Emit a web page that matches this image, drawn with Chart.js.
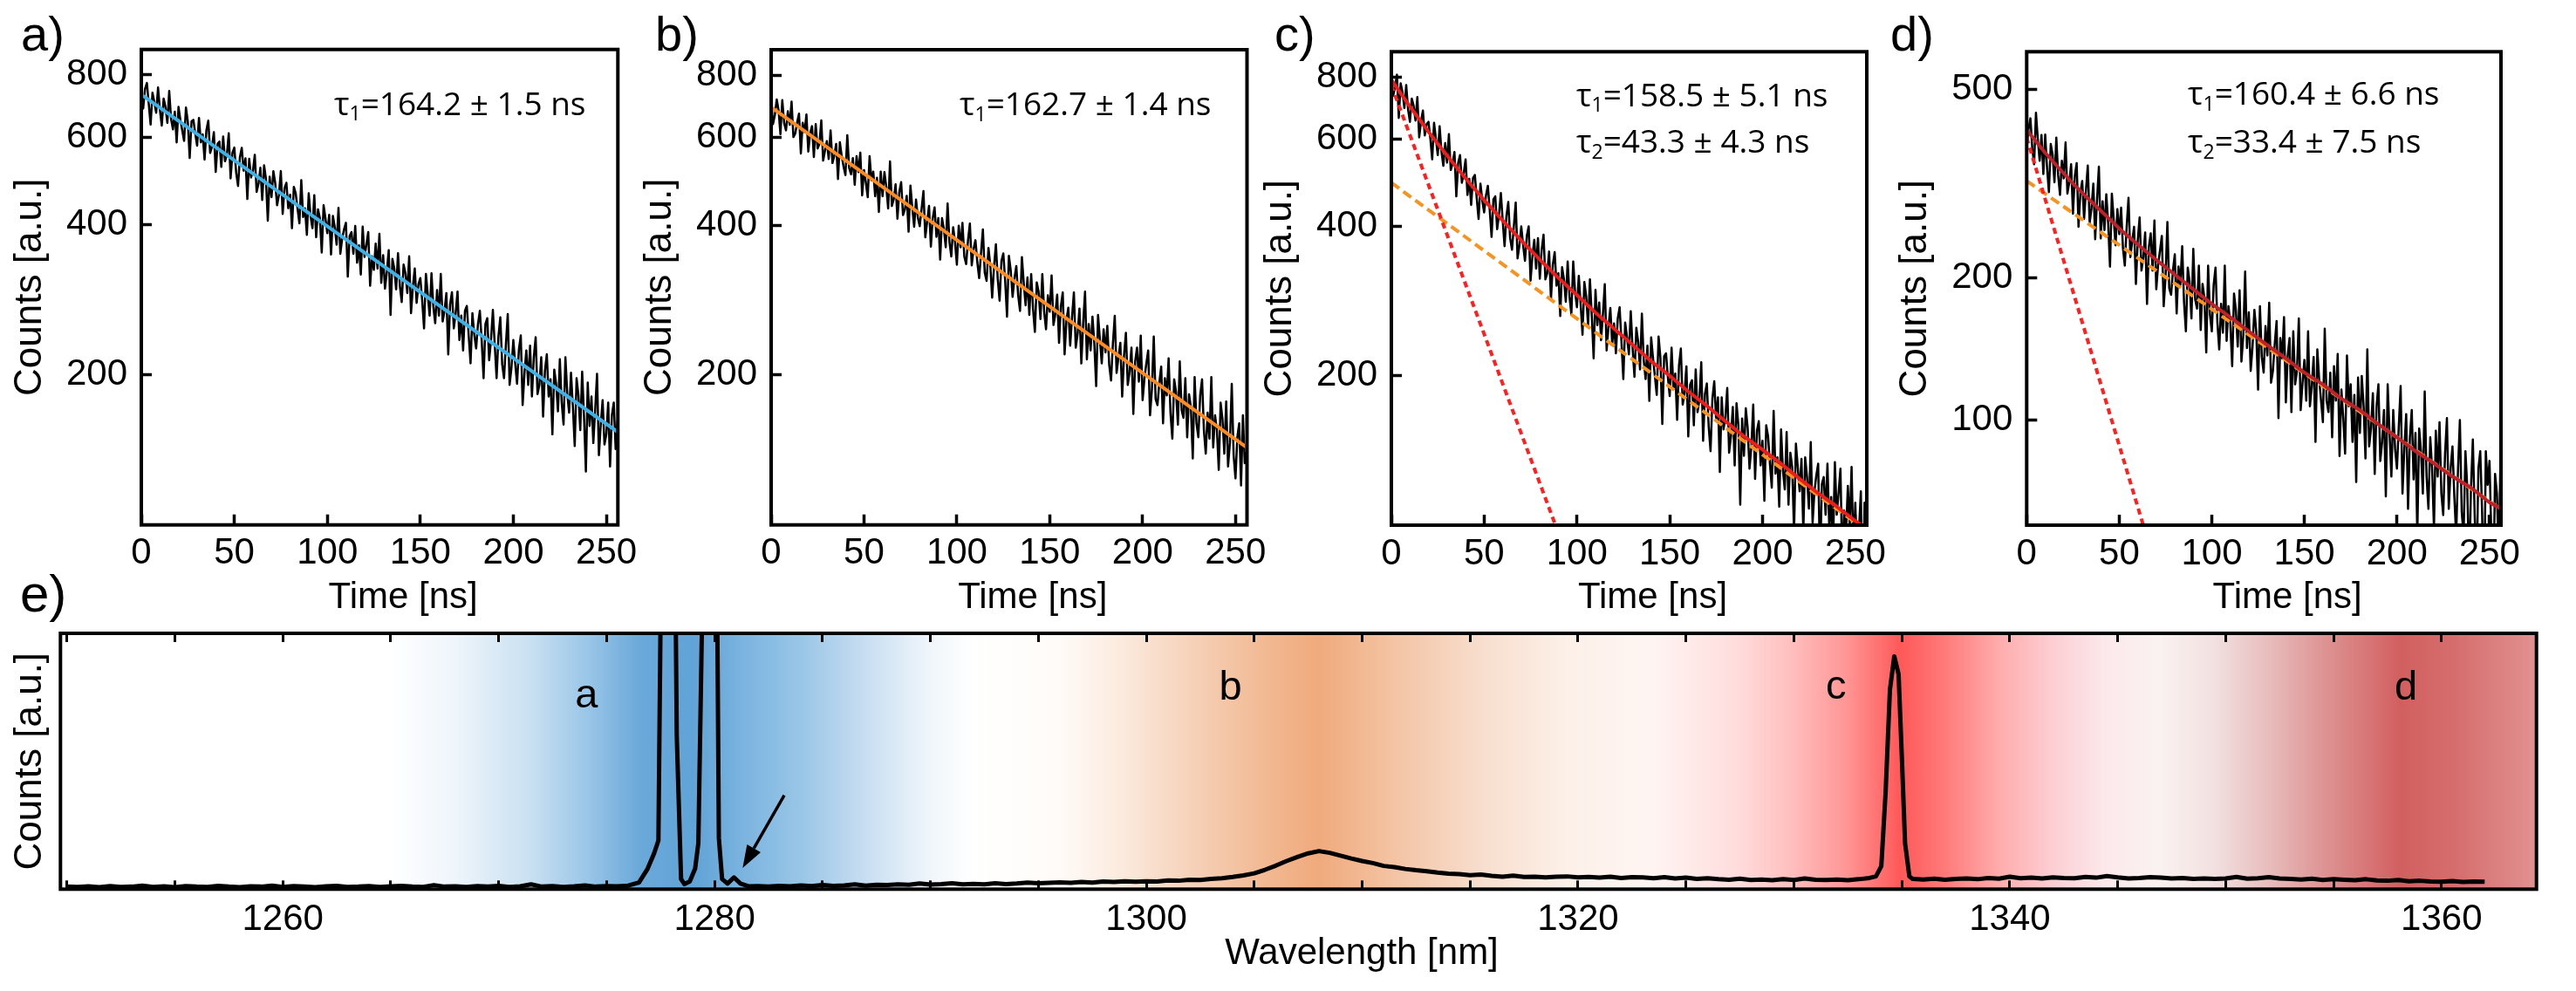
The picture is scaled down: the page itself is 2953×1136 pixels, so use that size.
<!DOCTYPE html>
<html><head><meta charset="utf-8">
<script src="https://cdn.jsdelivr.net/npm/chart.js"></script>
<style>
html,body{margin:0;padding:0;background:#fff;}
#wrap{position:relative;width:2953px;height:1136px;overflow:hidden;background:#fff;}
canvas{position:absolute;left:0;top:0;}
</style></head><body><div id="wrap">
<canvas id="cA" width="2953" height="1136"></canvas>
<canvas id="cB" width="2953" height="1136"></canvas>
<canvas id="cC" width="2953" height="1136"></canvas>
<canvas id="cD" width="2953" height="1136"></canvas>
<canvas id="cE" width="2953" height="1136"></canvas>
</div>
<script>
// ---------------- DATA ----------------
const timeTicks = [0, 50, 100, 150, 200, 250];
const yTicksABC = [200, 400, 600, 800];
const yTicksD = [100, 200, 500];

// photon counts per 1 ns bin, t = 0 ... 256 ns
const countsA = [
742,685,750,771,700,636,737,705,672,755,
681,633,717,690,641,743,653,622,675,586,
690,650,619,590,688,645,545,646,650,610,
577,656,586,608,541,620,648,558,574,614,
511,582,588,523,602,537,553,611,496,558,
572,509,479,547,571,514,544,451,543,498,
513,553,466,484,521,449,527,495,408,500,
455,513,485,438,460,513,421,474,486,432,
460,394,477,463,431,403,492,415,432,382,
463,416,394,459,378,430,413,352,438,412,
385,419,349,417,396,365,433,350,376,392,
404,315,380,387,350,398,336,364,318,397,
345,365,387,302,346,325,367,327,384,306,
348,298,322,356,264,342,327,297,351,302,
280,333,320,292,346,266,301,327,279,304,
313,282,248,319,290,263,320,274,254,296,
263,319,256,269,292,220,277,293,248,266,
294,235,263,224,269,275,240,211,266,241,
226,253,269,234,197,253,260,214,235,270,
230,197,239,261,210,197,230,265,191,207,
235,211,192,225,240,174,202,224,191,229,
181,217,238,183,191,217,165,204,220,181,
196,152,205,192,169,215,176,159,217,183,
168,202,173,144,197,182,155,203,165,128,
193,158,181,146,170,201,138,159,178,145,
152,176,131,166,176,142,162];

const countsB = [
717,638,665,715,681,609,713,641,620,677,
636,708,601,611,643,670,557,642,615,667,
562,612,632,548,638,570,582,649,539,565,
590,543,620,533,551,582,495,587,550,524,
504,606,521,506,545,482,550,511,559,459,
516,487,455,550,492,512,457,498,425,512,
457,511,477,432,537,437,451,483,412,466,
488,419,430,458,388,480,433,397,450,414,
398,431,468,378,407,437,362,413,434,379,
413,341,413,393,361,442,370,346,396,370,
333,399,361,404,346,334,373,403,332,358,
373,337,313,352,392,321,309,360,332,286,
330,366,312,282,339,351,309,262,347,324,
287,313,331,289,269,345,306,276,314,264,
319,272,244,307,294,259,319,268,247,289,
268,317,252,265,290,232,275,293,220,258,
273,229,261,293,227,242,272,211,254,294,
215,253,224,262,231,190,264,236,211,247,
222,251,210,195,231,263,202,217,232,181,
219,243,191,203,227,167,213,227,194,240,
178,197,211,224,166,187,239,179,174,193,
208,160,197,182,216,168,149,196,185,159,
213,170,164,197,150,183,172,136,198,160,
150,182,196,155,139,168,149,198,143,166,
155,129,176,163,139,177,131,146,192,138,
124,150,160,120,166,133,140];

const countsC = [
816,734,765,809,662,777,746,693,771,689,
650,724,700,654,729,605,652,685,610,643,
650,602,546,647,601,557,637,566,530,589,
538,614,520,536,565,460,537,557,490,512,
546,463,499,442,501,508,456,414,488,451,
427,462,483,432,381,454,460,395,422,467,
411,365,420,448,379,359,400,447,345,366,
400,367,341,383,400,311,348,376,329,379,
314,359,385,313,322,356,285,335,355,304,
322,264,331,313,282,340,289,266,340,295,
275,318,279,242,309,289,253,313,264,217,
298,253,281,236,266,306,225,251,274,232,
255,222,261,275,234,197,256,239,221,270,
227,199,250,234,206,267,215,197,230,178,
239,217,200,183,240,217,160,219,222,199,
182,228,188,202,163,210,227,175,185,209,
151,192,196,159,206,169,179,213,148,184,
193,158,141,180,195,163,181,128,181,156,
165,189,140,151,173,132,176,159,110,164,
138,172,157,130,144,175,124,155,162,132,
148,112,159,151,133,119,170,127,137,109,
156,129,118,154,110,140,131,97,146,131,
117,136,97,137,125,108,147,101,117,126,
133,83,121,125,105,133,98,114,90,134,
105,116,130,83,107,96,120,99,131,88,
111,84,98,117,66,111,102];

const countsD = [
380,412,434,376,347,446,393,353,400,331,
401,341,303,383,364,318,395,329,299,353,
324,386,301,318,347,273,328,349,256,302,
320,266,305,345,261,280,316,241,292,343,
242,290,252,300,261,211,301,266,234,279,
247,281,231,212,256,295,221,239,256,194,
240,268,207,221,249,176,232,248,207,264,
189,213,228,245,174,200,262,190,184,207,
224,168,211,193,233,177,154,210,196,164,
230,180,172,212,155,194,181,139,212,167,
154,193,210,161,141,176,153,212,147,174,
160,130,185,171,143,188,133,151,206,142,
169,127,143,171,154,116,174,136,126,158,
137,177,120,127,145,162,101,149,135,165,
109,137,149,104,154,119,127,164,105,120,
134,110,154,107,118,136,90,141,122,110,
99,156,110,104,126,92,130,110,138,84,
116,101,85,137,107,119,90,113,74,123,
94,124,107,83,141,88,96,114,77,107,
119,82,90,105,69,119,94,76,105,87,
79,97,118,70,87,103,65,92,105,75,
94,57,96,86,70,115,76,65,92,79,
59,95,76,99,70,63,85,101,65,79,
88,69,57,79,100,64,57,86,72,47,
72,91,63,47,79,86,64,39,86,73,
82,57,41,77,70,51,86];

// fitted decay curves
const fitTimeSingle = [0, 256.2];
const fitA = [731, 153.6];
const fitB = [690, 142.9];
const fitTimeSum = [0,5,10,15,20,25,30,40,50,60,70,80,90,100,110,120,130,140,150,160,170,180,190,200,210,220,230,240,250,256.2];
const fitSumC = [790,742,698,658,621,587,556,500,452,411,375,343,315,291,268,249,231,214,200,186,174,162,151,142,133,124,116,109,102,98];
const fitSlowC = [490, 97.3];
const fitFastTimeC = [0, 95];
const fitFastC = [770, 85.9];
const fitSumD = [410,388,367,349,332,316,302,277,254,235,218,203,189,176,165,154,144,135,126,119,111,105,98,92,86,81,76,72,67,65];
const fitSlowD = [320, 64.8];
const fitFastTimeD = [0, 70];
const fitFastD = [395, 48.6];

// spectrum (wavelength nm, counts a.u.)
const waveTicks = [1250,1255,1260,1265,1270,1275,1280,1285,1290,1295,1300,1305,1310,1315,1320,1325,1330,1335,1340,1345,1350,1355,1360];
const waveLabels = [1260,1280,1300,1320,1340,1360];
const spectrumPoints = [
[1250,1.0],[1250.5,0.9],[1251,1.1],[1251.5,0.8],[1252,1.2],[1252.5,0.9],[1253,1.0],[1253.5,1.4],[1254,0.9],[1254.5,1.1],
[1255,0.8],[1255.5,1.2],[1256,1.0],[1256.5,0.9],[1257,1.3],[1257.5,1.0],[1258,0.8],[1258.5,1.1],[1259,1.0],[1259.5,1.4],
[1260,0.9],[1260.5,1.2],[1261,1.0],[1261.5,0.8],[1262,1.1],[1262.5,1.3],[1263,0.9],[1263.5,1.0],[1264,1.2],[1264.5,0.9],
[1265,1.1],[1265.5,1.3],[1266,1.0],[1266.5,0.9],[1267,1.6],[1267.5,1.0],[1268,1.1],[1268.5,0.9],[1269,1.2],[1269.5,1.0],
[1270,1.3],[1270.5,0.9],[1271,1.1],[1271.5,1.9],[1272,1.0],[1272.5,1.2],[1273,0.9],[1273.5,1.1],[1274,1.5],[1274.5,1.0],
[1275,1.2],[1275.5,1.1],
[1276,1.4],[1276.5,2.6],[1276.9,8],[1277.2,14],[1277.4,19],[1277.55,150],[1277.75,400],[1278.0,300],[1278.25,60],[1278.45,4],
[1278.6,2.0],[1278.85,3.0],[1279.1,8],[1279.25,18],[1279.45,120],[1279.75,400],[1280.05,200],[1280.2,20],[1280.35,4],[1280.6,2.2],
[1280.9,4.6],[1281.2,2.2],[1281.6,1.1],
[1282,1.2],[1282.5,1.0],[1283,1.3],[1283.5,1.1],[1284,1.5],[1284.5,1.2],[1285,1.6],[1285.5,1.3],[1286,1.5],[1286.5,1.9],
[1287,1.4],[1287.5,1.7],[1288,1.6],[1288.5,1.9],[1289,1.7],[1289.5,2.2],[1290,1.8],[1290.5,2.0],[1291,2.3],[1291.5,1.9],
[1292,2.1],[1292.5,1.9],[1293,2.3],[1293.5,2.0],[1294,2.2],[1294.5,2.6],[1295,2.3],[1295.5,2.5],[1296,2.7],[1296.5,2.5],
[1297,2.8],[1297.5,2.6],[1298,3.0],[1298.5,2.8],[1299,3.1],[1299.5,2.9],[1300,3.1],[1300.5,3.0],[1301,3.4],[1301.5,3.3],
[1302,3.7],[1302.5,3.6],[1303,4.0],[1303.5,4.3],[1304,4.8],[1304.5,5.4],[1305,6.2],[1305.5,7.6],[1306,9.2],[1306.5,11.0],
[1307,12.6],[1307.5,14.0],[1308,14.9],[1308.5,14.2],[1309,13.1],[1309.5,12.0],[1310,11.0],[1310.5,10.2],[1311,9.1],[1311.5,8.6],
[1312,7.9],[1312.5,7.4],[1313,7.0],[1313.5,6.5],[1314,6.1],[1314.5,5.9],[1315,5.5],[1315.5,5.7],[1316,5.2],[1316.5,4.9],
[1317,5.3],[1317.5,4.8],[1318,4.9],[1318.5,4.6],[1319,4.9],[1319.5,5.0],[1320,4.6],[1320.5,4.8],[1321,4.5],[1321.5,4.9],
[1322,4.4],[1322.5,4.7],[1323,4.6],[1323.5,4.3],[1324,4.7],[1324.5,4.2],[1325,4.5],[1325.5,4.0],[1326,4.3],[1326.5,3.9],
[1327,3.7],[1327.5,4.1],[1328,3.6],[1328.5,3.8],[1329,3.5],[1329.5,3.9],[1330,3.6],[1330.5,4.2],[1331,3.7],[1331.5,3.6],
[1332,3.8],[1332.5,3.5],[1333,3.9],[1333.5,4.4],
[1333.8,5.0],[1334.05,9],[1334.25,38],[1334.45,78],[1334.65,91],[1334.85,84],[1335.0,52],[1335.15,18],[1335.35,5.0],
[1335.5,4.0],[1336,3.8],[1336.5,4.1],[1337,3.7],[1337.5,4.0],[1338,4.2],[1338.5,3.9],[1339,4.4],[1339.5,4.1],[1340,4.9],
[1340.5,4.3],[1341,4.5],[1341.5,4.2],[1342,4.6],[1342.5,4.4],[1343,4.3],[1343.5,4.8],[1344,4.5],[1344.5,5.1],[1345,4.6],
[1345.5,4.2],[1346,4.4],[1346.5,4.7],[1347,4.5],[1347.5,4.2],[1348,4.4],[1348.5,4.0],[1349,4.2],[1349.5,4.0],[1350,4.2],
[1350.5,4.8],[1351,4.1],[1351.5,4.3],[1352,4.7],[1352.5,4.2],[1353,4.0],[1353.5,3.8],[1354,4.1],[1354.5,3.6],[1355,3.9],
[1355.5,3.7],[1356,3.5],[1356.5,3.9],[1357,3.4],[1357.5,3.3],[1358,3.6],[1358.5,3.1],[1359,3.3],[1359.5,3.0],[1360,2.9],
[1360.5,3.2],[1361,2.8],[1361.5,3.0],[1362,2.9]];

// background colour bands of the spectrum (nm -> colour)
const bandNm = [1249.7,1265,1268,1271.5,1274,1276.5,1279,1281.5,1284,1287,1290,1292,1296,1299,1302.7,1305.5,1308,1311.8,1315.6,1319.5,1323.4,1327.4,1329.9,1332.4,1334.4,1334.9,1336.9,1339.4,1341.9,1344.4,1346.9,1349.4,1351.9,1354.4,1358.1,1360.7,1364.4];
const bandColor = ['#ffffff','#ffffff','#eef5fb','#c9e0f1','#9cc7e8','#6ba9da','#60a3d6','#7db5e0','#99c6e7','#c8def1','#f0f6fb','#ffffff','#fffbf8','#fbe9dc','#f5cdb2','#f2b993','#f0aa7c','#f4c6a8','#f8dece','#fcf0e8','#fef5f3','#ffdcdc','#ffbebe','#ff9696','#ff6666','#ff5858','#ff7878','#ffaaaa','#fccdd2','#fce8eb','#faf2f0','#f2e1e1','#e8bebe','#de9696','#d25f60','#d66e6e','#e19191'];
const bandLetters = ['a', 'b', 'c', 'd'];
const bandLetterNm = [1274.07, 1303.9, 1331.95, 1358.35];
const arrowTail = [1283.23, 36.7];
const arrowHead = [1281.3, 8.3];

// ---------------- DRAWING ----------------
const W = 2953, H = 1136;
const SANS = "'Liberation Sans', Arial, Helvetica, sans-serif";
const TAUF = "'Open Sans', 'Noto Sans', sans-serif";
Chart.defaults.color = '#000';
Chart.defaults.font.family = SANS;

const timeBins = Array.from({length: countsA.length}, (_, i) => i);  // 1 ns TCSPC bins
function series(xs, ys) { return ys.map((y, i) => ({x: xs[i], y: y})); }

function drawText(ctx, t) {
  ctx.save();
  ctx.fillStyle = '#000';
  ctx.textBaseline = t.baseline || 'alphabetic';
  ctx.translate(t.x, t.y);
  if (t.rot) ctx.rotate(t.rot);
  const parts = t.parts || [[t.text, t.font, 0]];
  let total = 0;
  for (const p of parts) { ctx.font = p[1]; total += ctx.measureText(p[0]).width; }
  let x = 0;
  if (t.align === 'center') x = -total / 2; else if (t.align === 'right') x = -total;
  for (const p of parts) { ctx.font = p[1]; ctx.fillText(p[0], x, p[2] || 0); x += ctx.measureText(p[0]).width; }
  ctx.restore();
}

function overlay(textsFn, before, after) {
  return {
    id: 'overlay',
    beforeDraw(chart) { if (before) before(chart); },
    afterDatasetsDraw(chart) { if (after) after(chart); },
    afterDraw(chart) {
      const ctx = chart.ctx, a = chart.chartArea;
      ctx.save();
      ctx.lineWidth = 4; ctx.strokeStyle = '#000';
      ctx.strokeRect(a.left, a.top, a.right - a.left, a.bottom - a.top);
      ctx.restore();
      for (const t of textsFn(chart)) drawText(ctx, t);
    }
  };
}

function tauLine(x, y, sub, rest) {
  return { x: x, y: y, parts: [['τ', '37px ' + TAUF, 0], [sub, '23px ' + TAUF, 6.6], [rest, '37px ' + TAUF, 0]] };
}

const gridOpts = { drawOnChartArea: false, tickLength: -12, tickWidth: 3.5, tickColor: '#000' };

function decayChart(id, box, yMin, yMax, yTicks, datasets, letter, letterX, taus) {
  const [L, R, T, B] = box;
  const texts = () => [
    { x: letterX, y: 58, text: letter, font: '56px ' + SANS },
    { x: L - 127, y: (T + B) / 2, text: 'Counts [a.u.]', font: '44px ' + SANS, rot: -Math.PI / 2, align: 'center', baseline: 'middle' },
    { x: (L + R) / 2 + 27, y: 697, text: 'Time [ns]', font: '42px ' + SANS, align: 'center' },
    ...taus
  ];
  return new Chart(document.getElementById(id), {
    type: 'line',
    data: { datasets: datasets },
    options: {
      responsive: false, maintainAspectRatio: false, animation: false, devicePixelRatio: 1, events: [],
      layout: { padding: { left: L - 100, right: W - R, top: T, bottom: H - B - 100 } },
      plugins: { legend: { display: false }, tooltip: { enabled: false } },
      elements: { point: { radius: 0 }, line: { tension: 0, borderJoinStyle: 'round' } },
      scales: {
        x: {
          type: 'linear', bounds: 'data', min: 0, max: 256.2,
          afterBuildTicks: s => { s.ticks = timeTicks.map(v => ({value: v})); },
          afterFit: s => { s.height = 100; },
          border: { display: false }, grid: gridOpts,
          ticks: { font: { size: 42 }, color: '#000', padding: 20, maxRotation: 0, autoSkip: false, callback: v => String(v) }
        },
        y: {
          type: 'logarithmic', bounds: 'data', min: yMin, max: yMax,
          afterBuildTicks: s => { s.ticks = yTicks.map(v => ({value: v})); },
          afterFit: s => { s.width = 100; },
          border: { display: false }, grid: gridOpts,
          ticks: { font: { size: 42 }, color: '#000', padding: 28, autoSkip: false, callback: v => String(v) }
        }
      }
    },
    plugins: [overlay(texts)]
  });
}

const dataLine = (ys) => ({ data: series(timeBins, ys), borderColor: '#000', borderWidth: 2.5, order: 10 });

decayChart('cA', [162, 708.3, 56.7, 601.7], 100, 900, yTicksABC, [
  { data: series(fitTimeSingle, fitA), borderColor: '#3db2e8', borderWidth: 4, order: 1 },
  dataLine(countsA)
], 'a)', 24, [tauLine(383, 131.7, '1', '=164.2 ± 1.5 ns')]);

decayChart('cB', [884, 1429.5, 57, 601.7], 100, 900, yTicksABC, [
  { data: series(fitTimeSingle, fitB), borderColor: '#ff8a1e', borderWidth: 4, order: 1 },
  dataLine(countsB)
], 'b)', 751, [tauLine(1100, 132, '1', '=162.7 ± 1.4 ns')]);

decayChart('cC', [1595, 2140, 59.3, 602], 100, 900, yTicksABC, [
  { data: series(fitTimeSum, fitSumC), borderColor: '#f01c1c', borderWidth: 4, order: 1 },
  { data: series(fitFastTimeC, fitFastC), borderColor: '#ff1f1f', borderWidth: 4, borderDash: [7, 5], order: 2 },
  { data: series(fitTimeSingle, fitSlowC), borderColor: '#f7931e', borderWidth: 4, borderDash: [11, 6], order: 3 },
  dataLine(countsC)
], 'c)', 1461, [tauLine(1807, 121.7, '1', '=158.5 ± 5.1 ns'), tauLine(1807, 175, '2', '=43.3 ± 4.3 ns')]);

decayChart('cD', [2323.3, 2867, 59.3, 602], 60, 600, yTicksD, [
  { data: series(fitTimeSum, fitSumD), borderColor: '#c0202a', borderWidth: 4, order: 1 },
  { data: series(fitFastTimeD, fitFastD), borderColor: '#ff1f1f', borderWidth: 4, borderDash: [7, 5], order: 2 },
  { data: series(fitTimeSingle, fitSlowD), borderColor: '#f7931e', borderWidth: 4, borderDash: [11, 6], order: 3 },
  dataLine(countsD)
], 'd)', 2167, [tauLine(2508, 120, '1', '=160.4 ± 6.6 ns'), tauLine(2508, 175, '2', '=33.4 ± 7.5 ns')]);

// ---- panel e: spectrum ----
(function () {
  const L = 69.3, R = 2907.7, T = 726, B = 1019.3;
  const eGrid = { drawOnChartArea: false, tickLength: -10, tickWidth: 3, tickColor: '#000' };
  const bg = chart => {
    const ctx = chart.ctx, a = chart.chartArea, xs = chart.scales.x;
    const g = ctx.createLinearGradient(a.left, 0, a.right, 0);
    bandNm.forEach((nm, i) => {
      const p = (xs.getPixelForValue(nm) - a.left) / (a.right - a.left);
      g.addColorStop(Math.min(1, Math.max(0, p)), bandColor[i]);
    });
    ctx.save(); ctx.fillStyle = g; ctx.fillRect(a.left, a.top, a.right - a.left, a.bottom - a.top); ctx.restore();
  };
  const arrow = chart => {
    const ctx = chart.ctx, xs = chart.scales.x, ys = chart.scales.y;
    const x1 = xs.getPixelForValue(arrowTail[0]), y1 = ys.getPixelForValue(arrowTail[1]);
    const x2 = xs.getPixelForValue(arrowHead[0]), y2 = ys.getPixelForValue(arrowHead[1]);
    const ang = Math.atan2(y2 - y1, x2 - x1), hl = 26, hw = 9;
    const bx = x2 - hl * Math.cos(ang), by = y2 - hl * Math.sin(ang);
    ctx.save(); ctx.strokeStyle = '#000'; ctx.fillStyle = '#000'; ctx.lineWidth = 3.5;
    ctx.beginPath(); ctx.moveTo(x1, y1); ctx.lineTo(bx, by); ctx.stroke();
    ctx.beginPath(); ctx.moveTo(x2, y2);
    ctx.lineTo(bx + hw * Math.sin(ang), by - hw * Math.cos(ang));
    ctx.lineTo(bx - hw * Math.sin(ang), by + hw * Math.cos(ang));
    ctx.closePath(); ctx.fill(); ctx.restore();
  };
  const letterBase = [811, 802, 801, 802];
  const texts = chart => [
    { x: 23, y: 701, text: 'e)', font: '60px ' + SANS },
    { x: 35, y: (T + B) / 2, text: 'Counts [a.u.]', font: '44px ' + SANS, rot: -Math.PI / 2, align: 'center', baseline: 'middle' },
    { x: 1561, y: 1105, text: 'Wavelength [nm]', font: '42px ' + SANS, align: 'center' },
    ...bandLetters.map((s, i) => ({ x: chart.scales.x.getPixelForValue(bandLetterNm[i]), y: letterBase[i], text: s, font: '47px ' + SANS, align: 'center' }))
  ];
  new Chart(document.getElementById('cE'), {
    type: 'line',
    data: { datasets: [{ data: spectrumPoints.map(p => ({x: p[0], y: p[1]})), borderColor: '#000', borderWidth: 5, borderJoinStyle: 'round' }] },
    options: {
      responsive: false, maintainAspectRatio: false, animation: false, devicePixelRatio: 1, events: [],
      layout: { padding: { left: L, right: W - R, top: T, bottom: H - B - 100 } },
      plugins: { legend: { display: false }, tooltip: { enabled: false } },
      elements: { point: { radius: 0 }, line: { tension: 0 } },
      scales: {
        x: {
          type: 'linear', position: 'bottom', bounds: 'data', min: 1249.7, max: 1364.4,
          afterBuildTicks: s => { s.ticks = waveTicks.map(v => ({value: v})); },
          afterFit: s => { s.height = 100; },
          border: { display: false }, grid: eGrid,
          ticks: { font: { size: 42 }, color: '#000', padding: 20, maxRotation: 0, autoSkip: false,
                   callback: v => waveLabels.includes(v) ? String(v) : '' }
        },
        x2: {
          type: 'linear', position: 'top', bounds: 'data', min: 1249.7, max: 1364.4,
          afterBuildTicks: s => { s.ticks = waveTicks.map(v => ({value: v})); },
          afterFit: s => { s.height = 0; },
          border: { display: false }, grid: eGrid,
          ticks: { display: false }
        },
        y: { type: 'linear', min: 0, max: 100, display: false }
      }
    },
    plugins: [overlay(texts, bg, arrow)]
  });
})();
</script>
</body></html>
